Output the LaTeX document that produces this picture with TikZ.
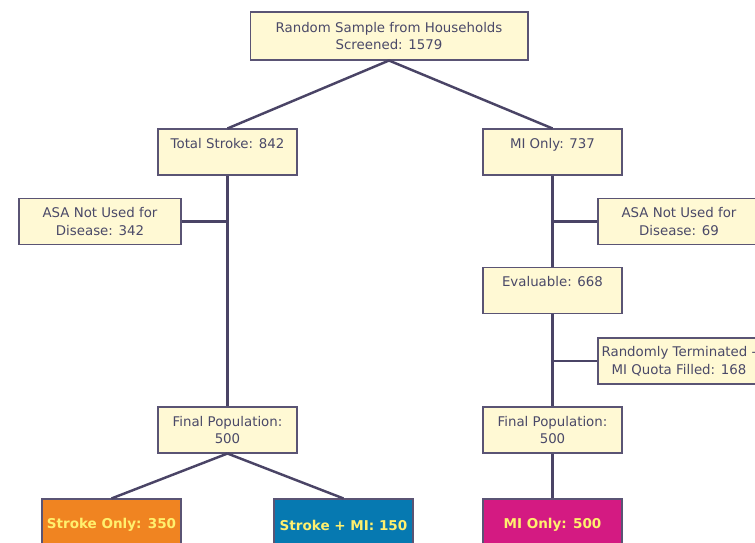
\documentclass[tikz,border=0pt]{standalone}
\usepackage{fontspec}
\setmainfont{DejaVu Sans}
\usetikzlibrary{positioning}
\definecolor{boxfill}{HTML}{FFF9D4}
\definecolor{boxline}{HTML}{5A5474}
\definecolor{linkline}{HTML}{4A4466}
\definecolor{boxtext}{HTML}{4A4968}
\definecolor{strokeorange}{HTML}{F08421}
\definecolor{bothblue}{HTML}{0679B1}
\definecolor{mimagenta}{HTML}{D41A82}
\definecolor{labelyellow}{HTML}{FFF06E}

\begin{document}
\begin{tikzpicture}[x=0.02cm, y=-0.02cm,
    info/.style={align=center, rectangle, draw=boxline, line width=0.6pt, fill=boxfill, text=boxtext,
      minimum width=2.78cm, minimum height=0.92cm, inner sep=0pt, font=\fontsize{7.6}{10.2}\selectfont},
    wide/.style={info, minimum width=3.24cm},
    result/.style={rectangle, draw=boxline, line width=0.6pt, text=labelyellow,
      minimum width=2.78cm, minimum height=1.04cm, inner sep=0pt, font=\fontsize{7.7}{10.2}\selectfont\bfseries},
    link/.style={draw=linkline, line width=1.4pt}]
  \clip (0,0) rectangle (755,543);

  % top and the two branches
  \node (sample) at (389,36) [info, minimum width=5.56cm, minimum height=0.96cm]{Random Sample from Households\\Screened: 1579};
  \node (stroke) at (227.5,152) [info]{Total Stroke: 842\\\phantom{0}};
  \node (mionly) at (552.5,152) [info]{MI Only: 737\\\phantom{0}};

  % side boxes
  \node (asaleft) at (100,221.5) [wide]{ASA Not Used for\\Disease: 342};
  \node (asaright) at (679,221.5) [wide]{ASA Not Used for\\Disease: 69};
  \node (evaluable) at (552.5,290.5) [info]{Evaluable: 668\\\phantom{0}};
  \node (terminated) at (679,361) [wide]{Randomly Terminated -\\MI Quota Filled: 168};

  \node (finalleft) at (227.5,430) [info]{Final Population:\\500};
  \node (finalright) at (552.5,430) [info]{Final Population:\\500};

  % outcome groups
  \node (strokeonly) at (111.5,525) [result, fill=strokeorange]{Stroke Only: 350};
  \node (strokemi) at (343.5,525) [result, fill=bothblue]{Stroke + MI: 150};
  \node (miresult) at (552.5,525) [result, fill=mimagenta]{MI Only: 500};

  \draw[link] (sample.south) -- (stroke.north);
  \draw[link] (sample.south) -- (mionly.north);
  \draw[link] (stroke.south) -- (finalleft.north);
  \draw[link] (asaleft.east) -- (asaleft.east -| stroke.south);
  \draw[link] (mionly.south) -- (evaluable.north);
  \draw[link] (asaright.west) -- (asaright.west -| mionly.south);
  \draw[link] (evaluable.south) -- (finalright.north);
  \draw[link] (terminated.west) -- (terminated.west -| evaluable.south);
  \draw[link] (finalright.south) -- (miresult.north);
  \draw[link] (finalleft.south) -- (strokeonly.north);
  \draw[link] (finalleft.south) -- (strokemi.north);
\end{tikzpicture}
\end{document}
